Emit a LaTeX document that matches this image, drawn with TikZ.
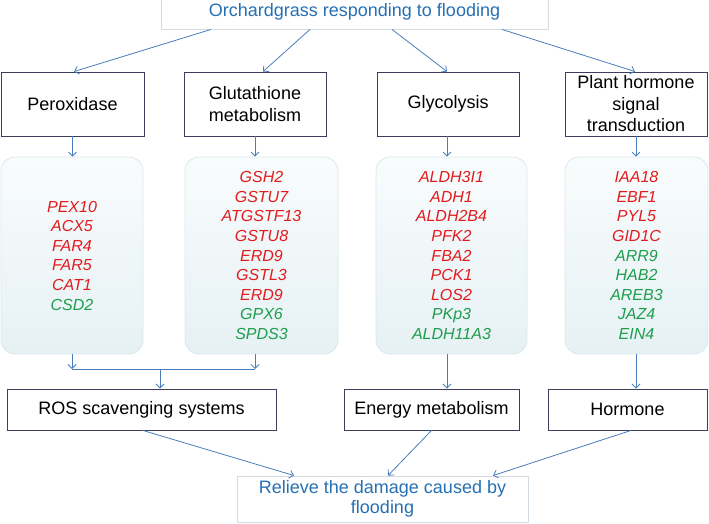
\documentclass[tikz,border=0pt]{standalone}
\usepackage{fontspec}
\setmainfont{Liberation Sans}
\usetikzlibrary{arrows.meta}
\definecolor{arrowblue}{RGB}{74,126,187}
\definecolor{titleblue}{RGB}{38,112,180}
\definecolor{boxline}{RGB}{62,62,92}
\definecolor{lightline}{RGB}{210,218,226}
\definecolor{roundline}{RGB}{218,232,236}
\definecolor{roundtop}{RGB}{249,252,253}
\definecolor{roundbottom}{RGB}{230,241,244}
\definecolor{genered}{RGB}{226,28,30}
\definecolor{genegreen}{RGB}{30,158,76}
\newcommand{\upgene}[1]{\textcolor{genered}{#1}}
\newcommand{\downgene}[1]{\textcolor{genegreen}{#1}}

\begin{document}
\begin{tikzpicture}[x=1pt, y=-1pt,
	catbox/.style={draw=boxline, line width=0.9pt, fill=white, align=center, inner sep=0pt, font=\fontsize{18}{21.5}\selectfont},
	endbox/.style={draw=lightline, line width=0.9pt, fill=white, align=center, inner sep=0pt, text=titleblue, font=\fontsize{18}{20}\selectfont},
	genebox/.style={draw=roundline, line width=0.8pt, rounded corners=14pt, top color=roundtop, bottom color=roundbottom, align=center, inner sep=0pt, minimum height=197pt, font=\fontsize{16}{19.6}\selectfont\itshape},
	link/.style={draw=arrowblue, line width=0.8pt, -{Straight Barb[length=4pt,width=8pt]}}]
	\useasboundingbox (0,0) rectangle (709,524);
	\node[endbox, minimum width=387pt, minimum height=34pt] (flood) at (354.5,12) {Orchardgrass responding to flooding};
	\node[catbox, minimum width=143pt, minimum height=64pt] (perox) at (72.5,104) {Peroxidase};
	\node[catbox, minimum width=142pt, minimum height=64pt] (gluta) at (255,104) {Glutathione\\metabolism};
	\node[catbox, minimum width=142pt, minimum height=64pt] (glyco) at (448,104) {Glycolysis};
	\node[catbox, minimum width=142pt, minimum height=64pt] (signal) at (636,104) {Plant hormone\\signal\\transduction};
	\node[genebox, minimum width=142pt] (perox genes) at (72,255.5) {\upgene{PEX10}\\\upgene{ACX5}\\\upgene{FAR4}\\\upgene{FAR5}\\\upgene{CAT1}\\\downgene{CSD2}};
	\node[genebox, minimum width=153pt] (gluta genes) at (261.5,255.5) {\upgene{GSH2}\\\upgene{GSTU7}\\\upgene{ATGSTF13}\\\upgene{GSTU8}\\\upgene{ERD9}\\\upgene{GSTL3}\\\upgene{ERD9}\\\downgene{GPX6}\\\downgene{SPDS3}};
	\node[genebox, minimum width=151pt] (glyco genes) at (451.5,255.5) {\upgene{ALDH3I1}\\\upgene{ADH1}\\\upgene{ALDH2B4}\\\upgene{PFK2}\\\upgene{FBA2}\\\upgene{PCK1}\\\upgene{LOS2}\\\downgene{PKp3}\\\downgene{ALDH11A3}};
	\node[genebox, minimum width=143pt] (signal genes) at (636.5,255.5) {\upgene{IAA18}\\\upgene{EBF1}\\\upgene{PYL5}\\\upgene{GID1C}\\\downgene{ARR9}\\\downgene{HAB2}\\\downgene{AREB3}\\\downgene{JAZ4}\\\downgene{EIN4}};
	\node[catbox, minimum width=269pt, minimum height=41pt] (ros) at (141.5,409.5) {ROS scavenging systems};
	\node[catbox, minimum width=175pt, minimum height=41pt] (energy) at (431.5,409.5) {Energy metabolism};
	\node[catbox, minimum width=159pt, minimum height=41pt] (hormone) at (627.5,409.5) {Hormone};
	\node[endbox, minimum width=291pt, minimum height=46pt] (relieve) at (382.5,499) {Relieve the damage caused by\\flooding};
	\coordinate (join) at (160,369);
	\draw[link] ([xshift=-143.5pt]flood.south) -- ([xshift=1.5pt]perox.north);
	\draw[link] ([xshift=-44.5pt]flood.south) -- ([xshift=8pt]gluta.north);
	\draw[link] ([xshift=37.5pt]flood.south) -- ([xshift=-1pt]glyco.north);
	\draw[link] ([xshift=147.5pt]flood.south) -- ([xshift=-1pt]signal.north);
	\draw[link] (perox.south) -- (perox.south |- perox genes.north);
	\draw[link] (gluta.south) -- (gluta.south |- gluta genes.north);
	\draw[link] ([xshift=-1pt]glyco.south) -- ([xshift=-1pt]glyco.south |- glyco genes.north);
	\draw[link] (signal.south) -- (signal.south |- signal genes.north);
	\draw[link] (perox genes.south) -- (perox genes.south |- join);
	\draw[link] (gluta.south |- gluta genes.south) -- (gluta.south |- join);
	\draw[arrowblue, line width=0.8pt] (perox genes.south |- join) -- (gluta.south |- join);
	\draw[link] (join) -- (join |- ros.north);
	\draw[link] ([xshift=-1pt]glyco.south |- glyco genes.south) -- ([xshift=-1pt]glyco.south |- energy.north);
	\draw[link] (signal.south |- signal genes.south) -- (signal.south |- hormone.north);
	\draw[link] ([xshift=1.5pt]ros.south) -- ([xshift=-88.5pt]relieve.north);
	\draw[link] (energy.south) -- ([xshift=5.5pt]relieve.north);
	\draw[link] ([xshift=3.5pt]hormone.south) -- ([xshift=110.5pt]relieve.north);
\end{tikzpicture}
\end{document}
